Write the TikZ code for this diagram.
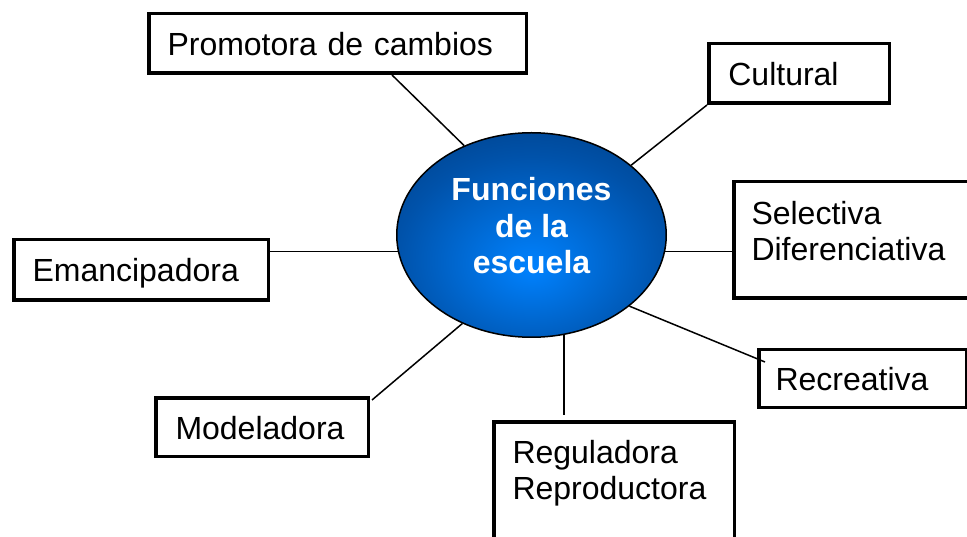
\documentclass[tikz,border=0pt]{standalone}
\usepackage{fontspec}
\setmainfont{Liberation Sans}
\usetikzlibrary{calc,shapes.geometric}
\hyphenpenalty=10000
\exhyphenpenalty=10000
\definecolor{bcenter}{RGB}{0,130,255}
\definecolor{bmid}{RGB}{0,82,170}
\definecolor{bedge}{RGB}{0,45,100}
\pgfdeclareradialshading{ballshade}{\pgfpoint{0bp}{-8bp}}{color(0bp)=(bcenter); color(25bp)=(bmid); color(50bp)=(bedge); color(90bp)=(bedge)}
\tikzset{
  box/.style={draw=black, line width=3.5pt, rectangle, anchor=north west, inner ysep=0pt,
    align=left, text=black, font=\fontsize{32}{36}\selectfont},
  oneline/.style={text height=26pt, text depth=2pt},
  link/.style={draw=black, line width=1.5pt},
  hub/.style={ellipse, draw=black, line width=1.5pt, shading=ballshade, inner sep=0pt,
    minimum width=269.5pt, minimum height=204.5pt, align=center, text=white,
    font=\fontsize{32}{36.5}\selectfont\bfseries}
}
\begin{document}
\begin{tikzpicture}[x=1pt,y=-1pt]
\useasboundingbox (0,0) rectangle (967,537);
\fill[white] (0,0) rectangle (967,537);
\clip (0,0) rectangle (967,537);

\node[hub] (E) at (531.5,235) {Funciones\\de la\\escuela\rule[-19pt]{0pt}{0pt}};

\node[box, oneline, minimum width=377.5pt, minimum height=59.5pt, inner xsep=18.75pt, text width=340pt] (P) at (147,12) {Promotora de cambios};
\node[box, oneline, minimum width=180.5pt, minimum height=59.5pt, inner xsep=19.6pt, text width=141.3pt] (C) at (707,42) {Cultural};
\node[box, minimum width=254.5pt, minimum height=116.5pt, inner xsep=17.75pt, text width=219pt] (S) at (732,180) {Selectiva\\Diferenciativa\rule[-19pt]{0pt}{0pt}};
\node[box, oneline, minimum width=208pt, minimum height=57.5pt, inner xsep=16.75pt, text width=174.5pt] (R) at (757,348) {Recreativa};
\node[box, oneline, minimum width=254.5pt, minimum height=60.5pt, inner xsep=18.75pt, text width=217pt] (M) at (12,238) {Emancipadora};
\node[box, oneline, minimum width=212.5pt, minimum height=58.5pt, inner xsep=19.75pt, text width=173pt] (D) at (154,396) {Modeladora};
\node[box, minimum width=240.5pt, minimum height=136.5pt, inner xsep=18.75pt, text width=203pt] (G) at (492,420) {Reguladora\\Reproductora\rule[-41pt]{0pt}{0pt}};

\coordinate (gtop) at ([yshift=5pt]G.north);

\draw[link] ([xshift=245pt]P.south west) -- (E.127.4);
\draw[link] (C.south west) -- (E.35.5);
\draw[link] (E.-7.1) -- (E.-7.1 -| S.west);
\draw[link] (E.-36) -- ([xshift=8pt,yshift=-14pt]R.north west);
\draw[link] (E.-72) -- (E.-72 |- gtop);
\draw[link] (E.187.7) -- (E.187.7 -| M.east);
\draw[link] (E.232.5) -- ([xshift=2pt,yshift=-4pt]D.north east);
\end{tikzpicture}
\end{document}
